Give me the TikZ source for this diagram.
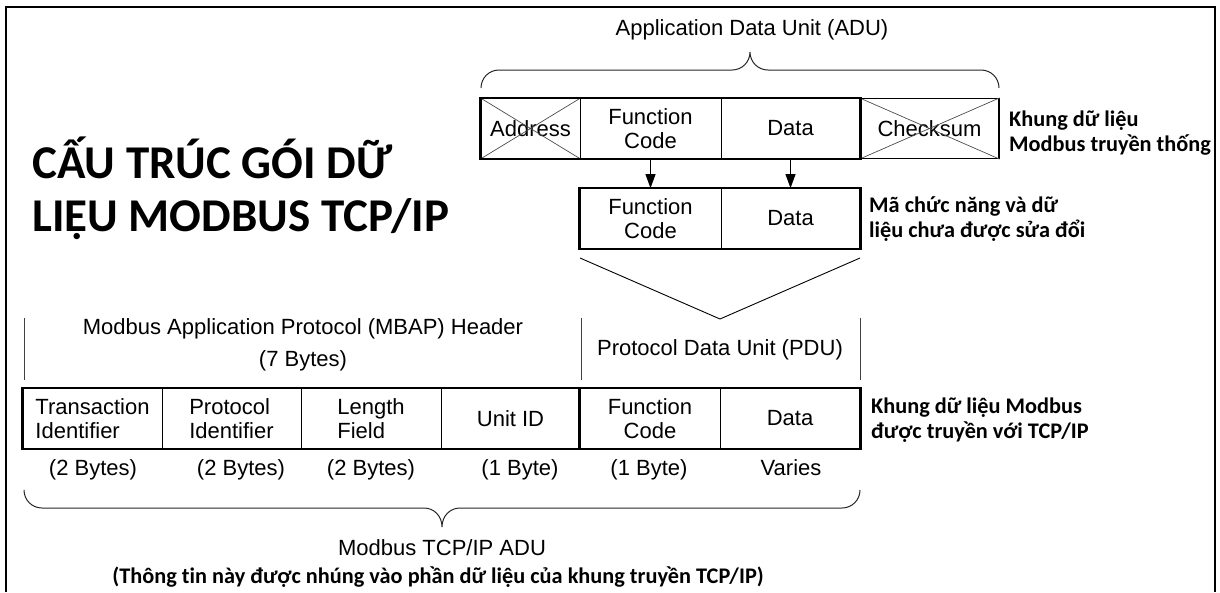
\documentclass[tikz,border=0pt]{standalone}
\usepackage{fontspec}
\setmainfont{Liberation Sans}
\newfontfamily\vnfont{Carlito}[Ligatures=NoCommon]
\usetikzlibrary{arrows.meta}

\begin{document}
\begin{tikzpicture}[x=1pt,y=-1pt,
  txt/.style={inner sep=0pt, align=center, font=\fontsize{22}{24}\selectfont},
  cell/.style={draw, line width=0.8pt, minimum height=60pt, inner sep=0pt,
    align=center, font=\fontsize{22}{24}\selectfont},
  boxline/.style={line width=2.6pt, line join=miter},
  frameline/.style={line width=2.4pt, line join=miter},
  xline/.style={line width=0.7pt, black!70},
  bracket/.style={line width=0.9pt, black!75},
  curly/.style={line width=1pt, black!85},
  note/.style={inner sep=0pt, align=left, font=\vnfont\bfseries\fontsize{22.3}{24.5}\selectfont},
  headline/.style={inner sep=0pt, font=\vnfont\bfseries\fontsize{47}{52}\selectfont},
  flow/.style={line width=1pt, -{Triangle[length=14pt,width=10pt]}},
]
\path[use as bounding box] (0,0) rectangle (1220,592);

% outer frame
\draw[frameline] (6,592) -- (6,7) -- (1215,7) -- (1215,592);

% title
\node[headline, anchor=base west] (title1) at (32,178) {CẤU TRÚC GÓI DỮ};
\node[headline, anchor=base west] (title2) at (32,231) {LIỆU MODBUS TCP/IP};

% ---- traditional Modbus frame ----
\node[txt] (adu) at (752,30) {Application Data Unit (ADU)};
\draw[curly] (481,88) .. controls (481,78) and (489,70) .. (499,70)
  -- (732,70) .. controls (742,70) and (750,62) .. (750,52)
  .. controls (750,62) and (758,70) .. (768,70)
  -- (981,70) .. controls (991,70) and (999,78) .. (999,88);

\node[cell, minimum width=99pt]  (addr)  at (530.5,128.5) {Address};
\node[cell, minimum width=141pt] (fc)    at (650.5,128.5) {Function\\Code};
\node[cell, minimum width=139pt] (data)  at (790.5,128.5) {Data};
\node[cell, minimum width=139pt, line width=1.3pt] (chk) at (929.5,128.5) {Checksum};
\draw[xline] (addr.north west) -- (addr.south east) (addr.south west) -- (addr.north east);
\draw[xline] (chk.north west) -- (chk.south east) (chk.south west) -- (chk.north east);
\draw[boxline] (addr.north west) rectangle (data.south east);

\node[note, anchor=west] (lbl1) at (1009,133) {Khung dữ liệu\\Modbus truyền thống};

% ---- function code and data, unchanged ----
\node[cell, minimum width=141pt] (fc2)   at (650.5,218.5) {Function\\Code};
\node[cell, minimum width=139pt] (data2) at (790.5,218.5) {Data};
\draw[boxline] (fc2.north west) rectangle (data2.south east);
\draw[flow] (fc.south) -- (fc2.north);
\draw[flow] (data.south) -- (data2.north);

\node[note, anchor=west] (lbl2) at (869,219) {Mã chức năng và dữ\\liệu chưa được sửa đổi};

% funnel into the PDU
\coordinate (vl) at (580,258);
\coordinate (vt) at (720,319);
\coordinate (vr) at (860,258);
\draw[line width=0.9pt] (vl) -- (vt) -- (vr);

% ---- Modbus TCP/IP frame ----
\coordinate (b1t) at (24,318);  \coordinate (b1b) at (24,380);
\coordinate (b2t) at (581,318); \coordinate (b2b) at (581,380);
\coordinate (b3t) at (860,318); \coordinate (b3b) at (860,380);
\draw[bracket] (b1t) -- (b1b) (b2t) -- (b2b) (b3t) -- (b3b);

\node[txt, font=\fontsize{22}{32}\selectfont] (mbap) at (303,345)
  {Modbus Application Protocol (MBAP) Header\\(7 Bytes)};
\node[txt] (pdu) at (720,350) {Protocol Data Unit (PDU)};

\node[cell, minimum width=139pt, align=left] (c1) at (92.5,418.5)  {Transaction\\Identifier};
\node[cell, minimum width=139pt, align=left] (c2) at (231.5,418.5) {Protocol\\Identifier};
\node[cell, minimum width=140pt, align=left] (c3) at (371,418.5)   {Length\\Field};
\node[cell, minimum width=139pt] (c4) at (510.5,418.5) {Unit ID};
\node[cell, minimum width=140pt] (c5) at (650,418.5)   {Function\\Code};
\node[cell, minimum width=140pt] (c6) at (790,418.5)   {Data};
\draw[boxline] (c1.north west) rectangle (c6.south east);
\draw[boxline] (c5.north west) -- (c5.south west);

\node[note, anchor=west] (lbl3) at (871,420) {Khung dữ liệu Modbus\\được truyền với TCP/IP};

\node[txt, anchor=base] (s1) at (93,475)  {(2 Bytes)};
\node[txt, anchor=base] (s2) at (241,475) {(2 Bytes)};
\node[txt, anchor=base] (s3) at (371,475) {(2 Bytes)};
\node[txt, anchor=base] (s4) at (520,475) {(1 Byte)};
\node[txt, anchor=base] (s5) at (649,475) {(1 Byte)};
\node[txt, anchor=base] (s6) at (791,475) {Varies};

\draw[curly] (24,490) .. controls (24,500) and (32,508) .. (42,508)
  -- (424,508) .. controls (434,508) and (442,516) .. (442,527)
  .. controls (442,516) and (450,508) .. (460,508)
  -- (842,508) .. controls (852,508) and (860,500) .. (860,490);

\node[txt] (tcpadu) at (442,548) {Modbus TCP/IP ADU};
\node[note, align=center, anchor=center] (lbl4) at (438,577)
  {(Thông tin này được nhúng vào phần dữ liệu của khung truyền TCP/IP)};
\end{tikzpicture}
\end{document}
